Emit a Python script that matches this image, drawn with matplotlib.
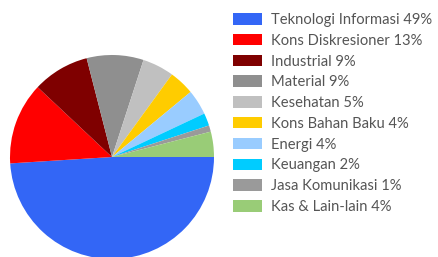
import matplotlib.pyplot as plt

# data
sectors = ["Teknologi Informasi", "Kons Diskresioner", "Industrial", "Material",
           "Kesehatan", "Kons Bahan Baku", "Energi", "Keuangan",
           "Jasa Komunikasi", "Kas & Lain-lain"]
weights = [49, 13, 9, 9, 5, 4, 4, 2, 1, 4]
colors = ["#3366f6", "#ff0000", "#7f0000", "#8f8f8f", "#c0c0c0",
          "#ffcc00", "#99ccff", "#00ccff", "#9a9a9a", "#99cc77"]

plt.rcParams['font.family'] = ['Lato', 'DejaVu Sans']

fig = plt.figure(figsize=(4.38, 2.57), dpi=100)
ax = fig.add_axes([0.0228, -0.0078, 0.4658, 0.7938])
wedges, _ = ax.pie(weights, colors=colors, startangle=0, counterclock=False,
                   radius=1, wedgeprops=dict(linewidth=0))
ax.set_xlim(-1, 1)
ax.set_ylim(-1, 1)
ax.set_aspect('equal')

labels = [f"{s} {w}%" for s, w in zip(sectors, weights)]
leg = fig.legend(wedges, labels, loc='upper left',
                 bbox_to_anchor=(233 / 438, 1 - 13 / 257),
                 frameon=False, fontsize=10.6, handlelength=2.0, handleheight=0.82,
                 handletextpad=0.55, labelspacing=0.46, borderaxespad=0,
                 borderpad=0)
for t in leg.get_texts():
    t.set_color("#555555")

fig.savefig("out.png", dpi=100)
